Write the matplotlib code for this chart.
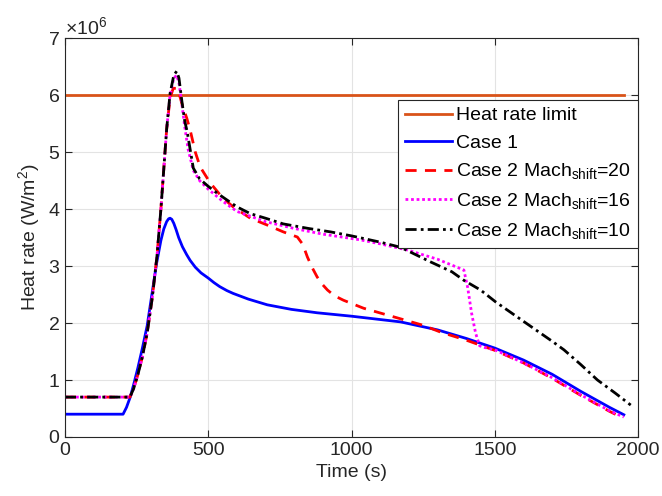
import matplotlib
matplotlib.use('Agg')
import matplotlib.pyplot as plt
import numpy as np
from matplotlib.ticker import ScalarFormatter

plt.rcParams['font.family'] = ['Liberation Sans', 'DejaVu Sans']
plt.rcParams['mathtext.fontset'] = 'custom'
plt.rcParams['mathtext.rm'] = 'Liberation Sans'
plt.rcParams['mathtext.it'] = 'Liberation Sans:italic'

# heat rate values in units of 1e6 W/m^2
t_limit = [0, 1950]
q_limit = [6.0, 6.0]

t_case1 = [0, 203, 215, 228, 240, 255, 270, 287, 305, 320, 335, 345, 355, 362, 367, 373, 380,
           388, 397, 410, 425, 437, 455, 475, 500, 520, 540, 565, 587, 640, 706, 790, 880, 1000,
           1171, 1300, 1400, 1500, 1600, 1700, 1800, 1900, 1950]
q_case1 = [0.4, 0.4, 0.52, 0.7, 0.92, 1.22, 1.55, 1.95, 2.55, 3.05, 3.45, 3.65, 3.78, 3.83, 3.84, 3.82, 3.75,
           3.64, 3.5, 3.34, 3.2, 3.1, 2.98, 2.88, 2.79, 2.71, 2.64, 2.57, 2.52, 2.42, 2.32, 2.24, 2.18, 2.12,
           2.02, 1.88, 1.73, 1.56, 1.35, 1.1, 0.8, 0.52, 0.39]

t_m20 = [0, 227, 240, 255, 270, 287, 305, 321, 335, 343, 355, 367, 378, 390, 400, 410, 425,
         437, 455, 472, 507, 550, 587, 647, 706, 762, 811, 830, 846, 862, 880, 898, 916, 940, 972,
         1042, 1160, 1250, 1311, 1400, 1500, 1600, 1700, 1800, 1900, 1940]
q_m20 = [0.7, 0.7, 0.85, 1.1, 1.4, 1.82, 2.45, 3.16, 4.0, 4.56, 5.4, 5.95, 6.12, 6.12, 6.0, 5.82, 5.6,
         5.39, 5.0, 4.74, 4.46, 4.2, 4.04, 3.84, 3.72, 3.6, 3.51, 3.38, 3.16, 2.98, 2.81, 2.68, 2.58,
         2.48, 2.4, 2.26, 2.09, 1.96, 1.84, 1.7, 1.52, 1.3, 1.03, 0.73, 0.45, 0.35]

t_m16 = [0, 227, 240, 255, 270, 287, 305, 321, 335, 343, 355, 367, 380, 390, 398, 408, 418,
         430, 448, 470, 500, 550, 600, 700, 800, 900, 1031, 1100, 1196, 1300, 1392, 1405,
         1419, 1433, 1447, 1465, 1500, 1600, 1700, 1800, 1900, 1950]
q_m16 = [0.7, 0.7, 0.85, 1.1, 1.4, 1.82, 2.45, 3.16, 4.0, 4.56, 5.4, 6.0, 6.3, 6.35, 6.22, 5.85, 5.45,
         5.05, 4.68, 4.5, 4.35, 4.14, 3.96, 3.78, 3.66, 3.56, 3.46, 3.39, 3.28, 3.12, 2.93, 2.63,
         2.17, 1.82, 1.6, 1.57, 1.53, 1.3, 1.04, 0.74, 0.46, 0.35]

t_m10 = [0, 227, 240, 255, 270, 287, 305, 321, 335, 343, 355, 367, 380, 390, 398, 408, 418,
         427, 448, 470, 500, 531, 600, 647, 700, 762, 850, 927, 1000, 1100, 1171, 1277, 1350, 1392,
         1450, 1503, 1600, 1700, 1741, 1800, 1858, 1920, 1974]
q_m10 = [0.7, 0.7, 0.85, 1.1, 1.4, 1.82, 2.45, 3.16, 4.0, 4.56, 5.4, 6.03, 6.35, 6.42, 6.3, 5.9, 5.55,
         5.35, 4.72, 4.53, 4.4, 4.28, 4.04, 3.92, 3.84, 3.74, 3.66, 3.6, 3.53, 3.42, 3.33, 3.07, 2.9,
         2.75, 2.58, 2.37, 2.03, 1.68, 1.53, 1.27, 1.0, 0.77, 0.56]

labels = ['Heat rate limit', 'Case 1',
          r'Case 2 Mach$_{\mathrm{shift}}$=20',
          r'Case 2 Mach$_{\mathrm{shift}}$=16',
          r'Case 2 Mach$_{\mathrm{shift}}$=10']

fig = plt.figure(figsize=(6.62, 4.96), dpi=100)
ax = fig.add_axes([0.098, 0.119, 0.866, 0.804])

sc = 1e6
ax.plot(t_limit, np.array(q_limit) * sc, color='#D95319', lw=2, label=labels[0])
ax.plot(t_case1, np.array(q_case1) * sc, color='#0000FF', lw=2, label=labels[1])
ax.plot(t_m20, np.array(q_m20) * sc, color='#FF0000', lw=2, ls=(0, (4, 3)), label=labels[2])
ax.plot(t_m16, np.array(q_m16) * sc, color='#FF00FF', lw=2, ls=(0, (1, 1)), label=labels[3])
ax.plot(t_m10, np.array(q_m10) * sc, color='k', lw=2, ls=(0, (4, 1.5, 1, 1.5)), label=labels[4])

ax.set_xlim(0, 2000)
ax.set_ylim(0, 7e6)
ax.set_xticks([0, 500, 1000, 1500, 2000])
ax.set_yticks(np.arange(0, 8) * sc)
fmt = ScalarFormatter(useMathText=True)
fmt.set_powerlimits((0, 0))
ax.yaxis.set_major_formatter(fmt)
ax.yaxis.get_offset_text().set_fontsize(14)

ax.grid(True, color='#E3E3E3', lw=0.8)
ax.set_axisbelow(True)
ax.tick_params(direction='in', top=True, right=True, labelsize=14, colors='#262626', length=5)
for s in ax.spines.values():
    s.set_color('#262626')
    s.set_linewidth(0.8)

ax.set_xlabel('Time (s)', fontsize=14, color='#262626')
ax.set_ylabel('Heat rate (W/m$^2$)', fontsize=14, color='#262626')

leg = ax.legend(loc='upper right', bbox_to_anchor=(1.0, 0.845), borderaxespad=0,
                fontsize=14, fancybox=False, edgecolor='#262626', framealpha=1,
                handlelength=2.4, handletextpad=0.25, labelspacing=0.5, borderpad=0.35)
leg.get_frame().set_linewidth(0.8)

fig.savefig('out.png', dpi=100)
